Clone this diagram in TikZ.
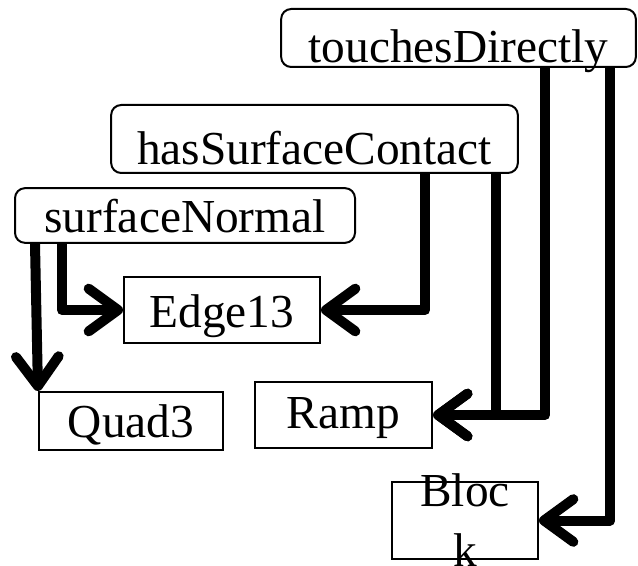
\documentclass[tikz,border=0pt]{standalone}
\usepackage{fontspec}
\setmainfont{Liberation Serif}
\usetikzlibrary{arrows.meta,calc}

\begin{document}
\begin{tikzpicture}[
    x=0.75pt, y=-0.75pt,
    font=\fontsize{35.5}{45}\selectfont,
    box/.style={draw,line width=1.5pt,inner sep=0pt,align=center},
    rbox/.style={box,rounded corners=7.5pt},
    link/.style={line width=7.5pt,line join=round,-{Straight Barb[length=22pt,width=32pt,round]}}
]
\useasboundingbox (0,0) rectangle (638,566);

\node[rbox,minimum width=266pt,minimum height=43.5pt,text height=37.5pt,text depth=0pt] (touch) at (458.5,38) {touchesDirectly};
\node[rbox,minimum width=305pt,minimum height=51pt,text height=39pt,text depth=0pt] (contact) at (314.5,139) {hasSurfaceContact};
\node[rbox,minimum width=255pt,minimum height=41pt,text height=26pt,text depth=0pt] (normal) at (185,215.5) {surfaceNormal};
\node[box,minimum width=147pt,minimum height=49.5pt,text height=25.5pt,text depth=0pt] (edge) at (222,310) {Edge13};
\node[box,minimum width=138pt,minimum height=43.5pt,text height=24pt,text depth=0pt] (quad) at (131,421) {Quad3};
\node[box,minimum width=133pt,minimum height=49.5pt,text height=23pt,text depth=3.5pt] (ramp) at (343.5,415) {Ramp};
\node[box,minimum width=109.5pt,minimum height=58pt,
      label={[align=center]center:Bloc\\k}] (block) at (465,520.5) {};

\draw[link] ($(normal.south west)+(21,0)$) -- (quad.north west);
\draw[link] ($(normal.south west)+(48,0)$) |- (edge.west);
\draw[link] ($(contact.south west)+(315,0)$) |- (edge.east);
\draw[link] ($(contact.south west)+(386,0)$) |- (ramp.east);
\draw[link] ($(touch.south west)+(265,0)$) |- (ramp.east);
\draw[link] ($(touch.south west)+(330,0)$) |- (block.east);
\end{tikzpicture}
\end{document}
